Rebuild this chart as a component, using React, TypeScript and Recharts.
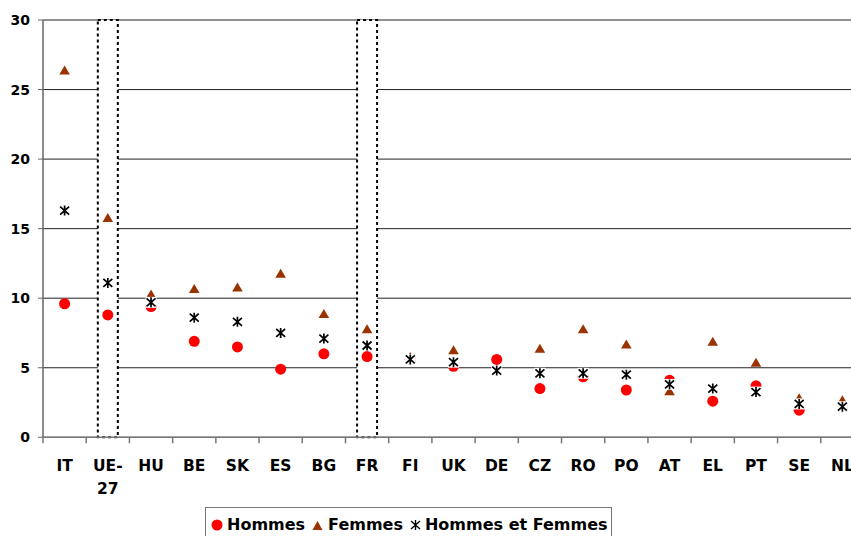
import {
  ComposedChart,
  Scatter,
  XAxis,
  YAxis,
  CartesianGrid,
  ReferenceArea,
} from "recharts";

const countries = [
  "IT", "UE-27", "HU", "BE", "SK", "ES", "BG", "FR", "FI", "UK",
  "DE", "CZ", "RO", "PO", "AT", "EL", "PT", "SE", "NL",
];
const hommes = [
  9.6, 8.8, 9.4, 6.9, 6.5, 4.9, 6.0, 5.8, 5.6, 5.1,
  5.6, 3.5, 4.35, 3.4, 4.1, 2.6, 3.7, 1.95, 2.2,
];
const femmes = [
  26.4, 15.8, 10.3, 10.7, 10.8, 11.8, 8.9, 7.8, 5.8, 6.3,
  4.8, 6.4, 7.8, 6.7, 3.35, 6.9, 5.4, 2.85, 2.7,
];
const ensemble = [
  16.3, 11.1, 9.7, 8.6, 8.3, 7.5, 7.1, 6.6, 5.6, 5.4,
  4.8, 4.6, 4.6, 4.5, 3.8, 3.5, 3.25, 2.4, 2.2,
];
const yTicks = [0, 5, 10, 15, 20, 25, 30];
const highlighted = ["UE-27", "FR"];

const chartData = countries.map((country, i) => ({
  country,
  hommes: hommes[i],
  femmes: femmes[i],
  ensemble: ensemble[i],
}));

const CHART_W = 866;
const CHART_H = 536;
const MARGIN = { top: 20, right: 2, left: 0, bottom: 48.7 };
const Y_AXIS_W = 43;
const BAND = (CHART_W - MARGIN.left - MARGIN.right - Y_AXIS_W) / countries.length;

const FONT = "'DejaVu Sans', sans-serif";
const RED = "#FF0000";
const BROWN = "#993300";

const DotShape = (props: any) => (
  <circle cx={props.cx} cy={props.cy} r={5.5} fill={RED} />
);

const TriangleShape = (props: any) => {
  const { cx, cy } = props;
  return (
    <path
      d={`M${cx},${cy - 4.5} L${cx + 5.3},${cy + 4.5} L${cx - 5.3},${cy + 4.5} Z`}
      fill={BROWN}
    />
  );
};

const starPath = (cx: number, cy: number) =>
  `M${cx - 4.5},${cy - 4} L${cx + 4.5},${cy + 4} M${cx - 4.5},${cy + 4} L${cx + 4.5},${cy - 4} ` +
  `M${cx},${cy - 5} L${cx},${cy + 5}`;

const StarShape = (props: any) => {
  const { cx, cy } = props;
  return (
    <g>
      <rect x={cx - 5.5} y={cy - 5.5} width={11} height={11} fill="#fff" />
      <path d={starPath(cx, cy)} stroke="#000" strokeWidth={1.7} fill="none" />
    </g>
  );
};

const DottedBox = (props: any) => {
  const mid = props.x + props.width / 2;
  return (
    <rect
      x={mid - 10}
      y={props.y}
      width={20}
      height={props.height}
      fill="#fff"
      stroke="#000"
      strokeWidth={2}
      strokeDasharray="3 3"
    />
  );
};

const CountryTick = (props: any) => {
  const { x, y, payload } = props;
  const value = String(payload.value);
  const lines = value.includes("-")
    ? [value.slice(0, value.indexOf("-") + 1), value.slice(value.indexOf("-") + 1)]
    : [value];
  return (
    <g>
      <line
        x1={x - BAND / 2}
        x2={x - BAND / 2}
        y1={y}
        y2={y + 6}
        stroke="#777"
        strokeWidth={1.5}
      />
      {lines.map((line, i) => (
        <text
          key={i}
          x={x}
          y={y + 33.4 + i * 23.5}
          textAnchor="middle"
          fontFamily={FONT}
          fontWeight="bold"
          fontSize={15.5}
          fill="#000"
        >
          {line}
        </text>
      ))}
    </g>
  );
};

function LegendBox() {
  const text = { fontFamily: FONT, fontWeight: "bold" as const, fontSize: 16, color: "#000" };
  return (
    <div
      style={{
        position: "absolute",
        left: 205,
        top: 507,
        width: 407,
        height: 40,
        border: "1px solid #777",
        background: "#fff",
        boxSizing: "border-box",
        display: "flex",
        alignItems: "center",
        paddingLeft: 5,
        paddingBottom: 5,
        whiteSpace: "nowrap",
      }}
    >
      <svg width={12} height={12}>
        <circle cx={6} cy={6} r={5.5} fill={RED} />
      </svg>
      <span style={{ ...text, marginLeft: 4 }}>Hommes</span>
      <svg width={11} height={12} style={{ marginLeft: 7 }}>
        <path d="M5.5,2 L10.5,11 L0.5,11 Z" fill={BROWN} />
      </svg>
      <span style={{ ...text, marginLeft: 5 }}>Femmes</span>
      <svg width={11} height={12} style={{ marginLeft: 7 }}>
        <path d={starPath(5.5, 6)} stroke="#000" strokeWidth={1.4} fill="none" />
      </svg>
      <span style={{ ...text, marginLeft: 4 }}>Hommes et Femmes</span>
    </div>
  );
}

export default function App() {
  return (
    <div
      style={{
        position: "absolute",
        left: 0,
        top: 0,
        width: 851,
        height: 536,
        overflow: "hidden",
        background: "#fff",
      }}
    >
      <ComposedChart width={CHART_W} height={CHART_H} data={chartData} margin={MARGIN}>
        <CartesianGrid vertical={false} stroke="#222" />
        <XAxis
          dataKey="country"
          type="category"
          height={50}
          interval={0}
          padding={{ left: BAND / 2, right: BAND / 2 }}
          tickSize={0}
          tickMargin={0}
          tickLine={false}
          axisLine={{ stroke: "#777", strokeWidth: 1.5 }}
          tick={<CountryTick />}
        />
        <YAxis
          domain={[0, 30]}
          ticks={yTicks}
          interval={0}
          width={Y_AXIS_W}
          tickSize={5}
          tickMargin={8}
          axisLine={{ stroke: "#666", strokeWidth: 1.5 }}
          tickLine={{ stroke: "#666" }}
          tick={{ fill: "#000", fontSize: 14, fontWeight: "bold", fontFamily: FONT }}
        />
        {highlighted.map((c) => (
          <ReferenceArea key={c} x1={c} x2={c} y1={0} y2={30} shape={<DottedBox />} />
        ))}
        <Scatter dataKey="hommes" shape={DotShape} isAnimationActive={false} />
        <Scatter dataKey="femmes" shape={TriangleShape} isAnimationActive={false} />
        <Scatter dataKey="ensemble" shape={StarShape} isAnimationActive={false} />
      </ComposedChart>
      <LegendBox />
    </div>
  );
}
